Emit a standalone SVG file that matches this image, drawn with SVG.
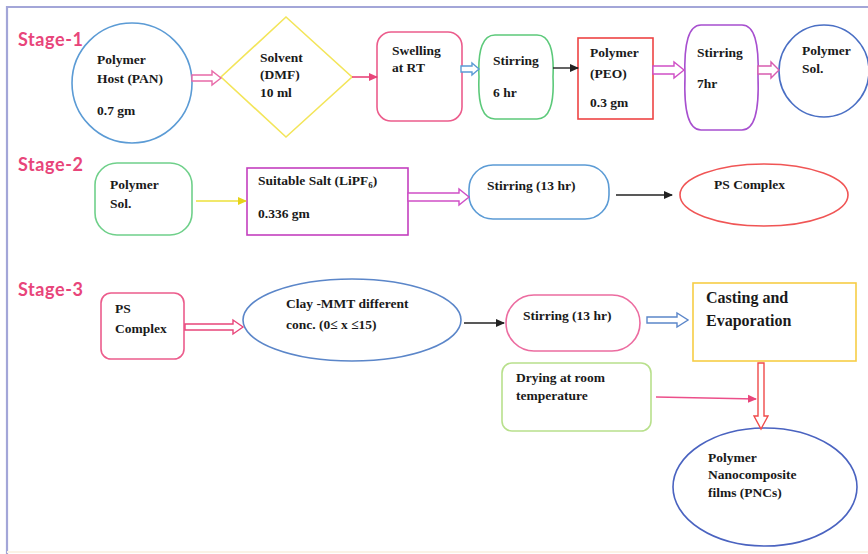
<svg xmlns="http://www.w3.org/2000/svg" width="868" height="554" viewBox="0 0 868 554">
<defs>
<style>
text.t{font-family:'Liberation Serif','DejaVu Serif','Times New Roman',serif;font-weight:700;font-size:13.5px;fill:#1a1a1a}
text.big{font-size:16px}
text.stage{font-family:Lato,'Open Sans',sans-serif;font-weight:bold;font-size:18px;letter-spacing:0.6px;fill:#e8457a}
.n{fill:#fff;stroke-width:1.6}
.ho{fill:#fff;stroke-width:1.4}
</style>
<marker id="ahk" markerWidth="10" markerHeight="10" refX="8" refY="5" orient="auto" markerUnits="userSpaceOnUse">
<path d="M0,1 L9,5 L0,9 Z" fill="#222"/>
</marker>
<marker id="ahp" markerWidth="10" markerHeight="10" refX="8" refY="5" orient="auto" markerUnits="userSpaceOnUse">
<path d="M0,1 L9,5 L0,9 Z" fill="#e8457a"/>
</marker>
<marker id="ahy" markerWidth="10" markerHeight="10" refX="8" refY="5" orient="auto" markerUnits="userSpaceOnUse">
<path d="M0,1 L9,5 L0,9 Z" fill="#e6d21a"/>
</marker>
</defs>
<rect width="868" height="554" fill="#fff"/>
<path d="M7,554 L7,7 L868,7" fill="none" stroke="#a3a6d8" stroke-width="2.2"/>
<line x1="7" y1="552" x2="868" y2="552" stroke="#fbf3e6" stroke-width="2"/>

<g id="labels">
<text class="stage" x="18" y="46">Stage-1</text>
<text class="stage" x="18" y="171">Stage-2</text>
<text class="stage" x="18" y="296">Stage-3</text>
</g>

<g id="host">
<circle class="n" cx="132" cy="83" r="60" stroke="#5b9bd5"/>
<text class="t" x="97" y="64">Polymer</text>
<text class="t" x="97" y="83">Host (PAN)</text>
<text class="t" x="97" y="115">0.7 gm</text>
</g>
<g id="solvent">
<polygon class="n" points="286,17 352,77 286,137 221,77" stroke="#f3e55a"/>
<text class="t" x="260" y="62">Solvent</text>
<text class="t" x="260" y="79">(DMF)</text>
<text class="t" x="260" y="97">10 ml</text>
</g>
<g id="swelling">
<rect class="n" x="377" y="32" width="85" height="89" rx="14" stroke="#ec5c8c"/>
<text class="t" x="392" y="55">Swelling</text>
<text class="t" x="392" y="72">at RT</text>
</g>
<g id="stir6">
<path class="n" d="M495,35 L537,35 Q555,35 553,77 Q555,119 537,119 L495,119 Q477,119 479,77 Q477,35 495,35 Z" stroke="#5cc97a"/>
<text class="t" x="493" y="65">Stirring</text>
<text class="t" x="493" y="97">6 hr</text>
</g>
<g id="peo">
<rect class="n" x="578" y="38" width="75" height="81" stroke="#ee4444"/>
<text class="t" x="590" y="57">Polymer</text>
<text class="t" x="590" y="78">(PEO)</text>
<text class="t" x="590" y="107">0.3 gm</text>
</g>
<g id="stir7">
<path class="n" d="M701,25 L742,25 Q760,25 758,77 Q760,130 742,130 L701,130 Q683,130 685,77 Q683,25 701,25 Z" stroke="#a74fcf"/>
<text class="t" x="697" y="57">Stirring</text>
<text class="t" x="697" y="88">7hr</text>
</g>
<g id="sol1">
<ellipse class="n" cx="824" cy="71" rx="45" ry="46" stroke="#4a6fc4"/>
<text class="t" x="802" y="55">Polymer</text>
<text class="t" x="802" y="73">Sol.</text>
</g>

<g id="sol2">
<rect class="n" x="95" y="163" width="97" height="72" rx="22" stroke="#6fd08a"/>
<text class="t" x="110" y="189">Polymer</text>
<text class="t" x="110" y="208">Sol.</text>
</g>
<g id="salt">
<rect class="n" x="247" y="168" width="161" height="67" stroke="#c43fbf"/>
<text class="t" x="258" y="185">Suitable Salt (LiPF<tspan font-size="9" dy="3">6</tspan><tspan dy="-3">)</tspan></text>
<text class="t" x="258" y="218">0.336 gm</text>
</g>
<g id="stir13a">
<rect class="n" x="469" y="165" width="140" height="54" rx="24" stroke="#5b9bd5"/>
<text class="t" x="487" y="190">Stirring (13 hr)</text>
</g>
<g id="ps1">
<ellipse class="n" cx="764" cy="195" rx="84" ry="31" stroke="#f05555"/>
<text class="t" x="714" y="189">PS Complex</text>
</g>

<g id="ps2">
<rect class="n" x="101" y="293" width="83" height="66" rx="10" stroke="#ec5c8c"/>
<text class="t" x="115" y="313">PS</text>
<text class="t" x="115" y="333">Complex</text>
</g>
<g id="clay">
<ellipse class="n" cx="352" cy="320" rx="109" ry="41" stroke="#5b86c9"/>
<text class="t" x="286" y="308">Clay -MMT different</text>
<text class="t" x="286" y="329">conc. (0≤ x ≤15)</text>
</g>
<g id="stir13b">
<rect class="n" x="506" y="295" width="134" height="56" rx="28" stroke="#ec6ca0"/>
<text class="t" x="523" y="320">Stirring (13 hr)</text>
</g>
<g id="casting">
<rect class="n" x="693" y="283" width="163" height="78" stroke="#f7cd45"/>
<text class="t big" x="706" y="303">Casting and</text>
<text class="t big" x="706" y="326">Evaporation</text>
</g>
<g id="drying">
<rect class="n" x="502" y="363" width="149" height="68" rx="10" stroke="#b8e08c"/>
<text class="t" x="516" y="382">Drying at room</text>
<text class="t" x="516" y="400">temperature</text>
</g>
<g id="pnc">
<ellipse class="n" cx="765" cy="487" rx="92" ry="59" stroke="#4a63c0"/>
<text class="t" x="708" y="462">Polymer</text>
<text class="t" x="708" y="479">Nanocomposite</text>
<text class="t" x="708" y="497">films (PNCs)</text>
</g>

<g id="connectors">
<path class="ho" stroke="#e86aa8" d="M192,75 L212,75 L212,71 L221,78 L212,85 L212,81 L192,81 Z"/>
<line x1="352" y1="77" x2="377" y2="77" stroke="#e8457a" stroke-width="1.6" marker-end="url(#ahp)"/>
<path class="ho" stroke="#5b9bd5" d="M461,66 L472,66 L472,63 L479,69 L472,75 L472,72 L461,72 Z"/>
<line x1="553" y1="68" x2="578" y2="68" stroke="#222" stroke-width="1.4" marker-end="url(#ahk)"/>
<path class="ho" stroke="#cf4fc6" d="M653,66 L674,66 L674,62 L684,70 L674,78 L674,74 L653,74 Z"/>
<path class="ho" stroke="#d85cb0" d="M758,66 L771,66 L771,62 L779,70 L771,78 L771,74 L758,74 Z"/>
<line x1="196" y1="201" x2="246" y2="201" stroke="#ece03a" stroke-width="1.6" marker-end="url(#ahy)"/>
<path class="ho" stroke="#cf4fc6" d="M408,193 L459,193 L459,189 L469,197 L459,205 L459,201 L408,201 Z"/>
<line x1="616" y1="195" x2="672" y2="195" stroke="#222" stroke-width="1.4" marker-end="url(#ahk)"/>
<path class="ho" stroke="#e8457a" d="M185,324 L233,324 L233,320 L243,327 L233,334 L233,330 L185,330 Z"/>
<line x1="464" y1="323" x2="504" y2="323" stroke="#222" stroke-width="1.4" marker-end="url(#ahk)"/>
<path class="ho" stroke="#5b86c9" d="M647,317 L677,317 L677,313 L688,320 L677,327 L677,323 L647,323 Z"/>
<path class="ho" stroke="#f04a4a" d="M758,363 L764,363 L764,416 L768,416 L761,429 L754,416 L758,416 Z"/>
<line x1="656" y1="397" x2="756" y2="399" stroke="#ec4f8a" stroke-width="1.4" marker-end="url(#ahp)"/>
</g>
</svg>
